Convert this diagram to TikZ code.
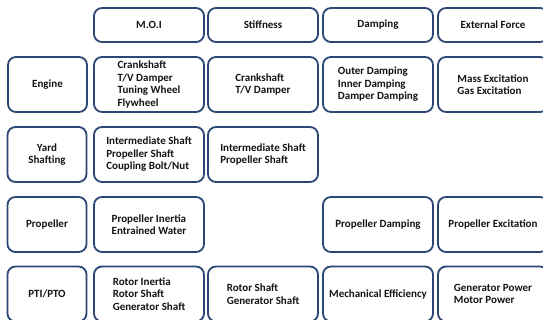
\documentclass[tikz,border=0pt]{standalone}
\usepackage{fontspec}
\setmainfont{Carlito}
\usepackage{tikz}
\usetikzlibrary{positioning}

\definecolor{boxline}{RGB}{44,70,118}
\definecolor{boxtext}{RGB}{20,20,20}

\tikzset{
  cell/.style={draw=boxline, line width=1.8pt, rounded corners=8pt, fill=white,
    minimum width=110pt, minimum height=55pt, inner sep=0pt, align=left,
    text=boxtext, font=\fontsize{11}{12.5}\selectfont\bfseries},
  headcell/.style={cell, minimum height=34pt},
  rowcell/.style={cell, minimum width=79pt, align=center}
}

\begin{document}
\begin{tikzpicture}[x=1pt, y=-1pt]
    \clip (0,0) rectangle (543,320);
    \fill[white] (0,0) rectangle (543,320);
    % Titulos de columna
    \node[headcell] (moi) at (149,25) {M.O.I};
    \node[headcell] (stiff) at (263,25) {Stiffness};
    \node[headcell] (damp) at (378,25) {Damping};
    \node[headcell] (force) at (493,25) {External Force};
    % Engine
    \node[rowcell] (engine) at (47.5,84.5) {Engine};
    \node[cell] (engine-moi) at (149,84.5) {Crankshaft\\T/V Damper\\Tuning Wheel\\Flywheel};
    \node[cell] (engine-stiff) at (263,84.5) {Crankshaft\\T/V Damper};
    \node[cell] (engine-damp) at (378,84.5) {Outer Damping\\Inner Damping\\Damper Damping};
    \node[cell] (engine-force) at (493,84.5) {Mass Excitation\\Gas Excitation};
    % Yard shafting
    \node[rowcell] (yard) at (47,154.5) {Yard\\Shafting};
    \node[cell] (yard-moi) at (149,154.5) {Intermediate Shaft\\Propeller Shaft\\Coupling Bolt/Nut};
    \node[cell] (yard-stiff) at (263,154.5) {Intermediate Shaft\\Propeller Shaft};
    % Propeller
    \node[rowcell] (prop) at (47,224.5) {Propeller};
    \node[cell] (prop-moi) at (149,224.5) {Propeller Inertia\\Entrained Water};
    \node[cell] (prop-damp) at (378,224.5) {Propeller Damping};
    \node[cell] (prop-force) at (493,224.5) {Propeller Excitation};
    % PTI/PTO
    \node[rowcell] (pto) at (47,294) {PTI/PTO};
    \node[cell] (pto-moi) at (149,294) {Rotor Inertia\\Rotor Shaft\\Generator Shaft};
    \node[cell] (pto-stiff) at (263,294) {Rotor Shaft\\Generator Shaft};
    \node[cell] (pto-damp) at (378,294) {Mechanical Efficiency};
    \node[cell] (pto-force) at (493,294) {Generator Power\\Motor Power};
\end{tikzpicture}
\end{document}
